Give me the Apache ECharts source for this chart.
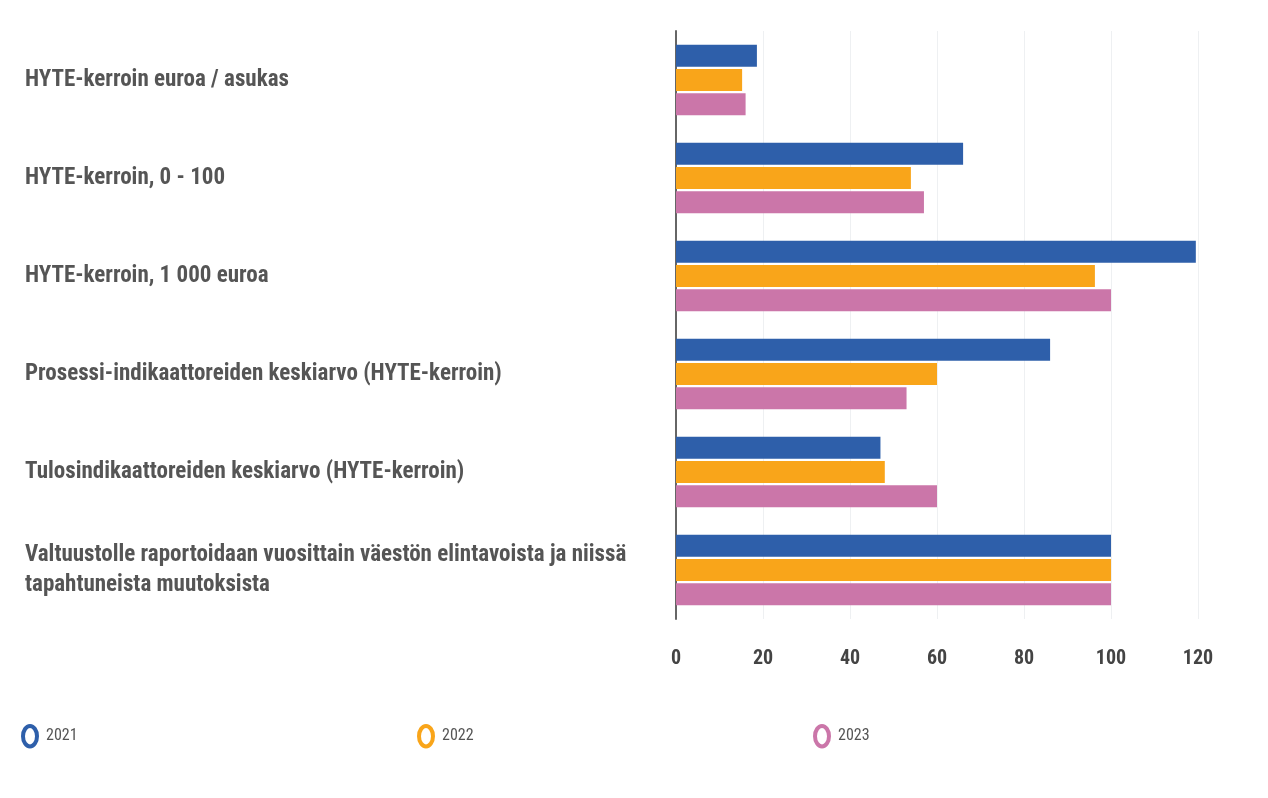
<!DOCTYPE html>
<html>
<head>
<meta charset="utf-8">
<script src="https://cdn.jsdelivr.net/npm/echarts@6/dist/echarts.min.js"></script>
<style>
    html, body {margin: 0; padding: 0; background: #fff;}
    #ChartMain {width: 1268px; height: 798px;}
</style>
</head>
<body>
<div id="ChartMain"></div>
<script>
// kategoriat ylhäältä alas
var categories = [
    'HYTE-kerroin euroa / asukas',
    'HYTE-kerroin, 0 - 100',
    'HYTE-kerroin, 1 000 euroa',
    'Prosessi-indikaattoreiden keskiarvo (HYTE-kerroin)',
    'Tulosindikaattoreiden keskiarvo (HYTE-kerroin)',
    'Valtuustolle raportoidaan vuosittain väestön elintavoista ja niissä\ntapahtuneista muutoksista'
];
var years = ['2021', '2022', '2023'];
var values2021 = [18.6, 66, 119.5, 86, 47, 100];
var values2022 = [15.2, 54, 96.3, 60, 48, 100];
var values2023 = [16, 57, 100, 53, 60, 100];
var colors = ['#2e5faa', '#f9a51a', '#cb76a9'];

function GenerateChart() {
    var chart = echarts.init(document.getElementById('ChartMain'));
    var font = '"Liberation Sans Narrow", "Roboto Condensed", "DejaVu Sans Condensed", sans-serif';
    var data = [values2021, values2022, values2023];
    // pystysuora soikio-rengas legendaan
    var ringIcon = 'path://M6.5,0 A6.5,9.5 0 1,1 6.5,19 A6.5,9.5 0 1,1 6.5,0 Z';

    var legends = years.map(function (y, i) {
        return {
            left: [16, 412, 808][i],
            top: 719,
            icon: ringIcon,
            itemWidth: 14,
            itemHeight: 21,
            itemGap: 10,
            data: [{name: y, itemStyle: {color: '#fff', borderColor: colors[i], borderWidth: 4}}],
            textStyle: {fontFamily: font, fontSize: 16, color: '#555', padding: [0, 0, 0, 4]}
        };
    });

    var series = years.map(function (y, i) {
        return {
            name: y,
            type: 'bar',
            data: data[i],
            barWidth: 22,
            barGap: '10%',
            itemStyle: {color: colors[i]}
        };
    });

    var option = {
        animation: false,
        legend: legends,
        grid: {left: 676, right: 70, top: 31, bottom: 179, containLabel: false},
        xAxis: {
            type: 'value',
            min: 0,
            max: 120,
            interval: 20,
            axisLine: {show: false},
            axisTick: {show: false},
            splitLine: {lineStyle: {color: '#eef0f2'}},
            axisLabel: {margin: 30, fontFamily: font, fontSize: 20, fontWeight: 'bold', color: '#444'}
        },
        yAxis: {
            type: 'category',
            inverse: true,
            data: categories,
            axisLine: {show: true, lineStyle: {color: '#666', width: 2}},
            axisTick: {show: false},
            axisLabel: {
                align: 'left',
                margin: 651,
                fontFamily: font,
                fontSize: 23,
                fontWeight: 'bold',
                lineHeight: 30,
                color: '#555'
            }
        },
        series: series
    };
    chart.setOption(option);
}
GenerateChart();
</script>
</body>
</html>
